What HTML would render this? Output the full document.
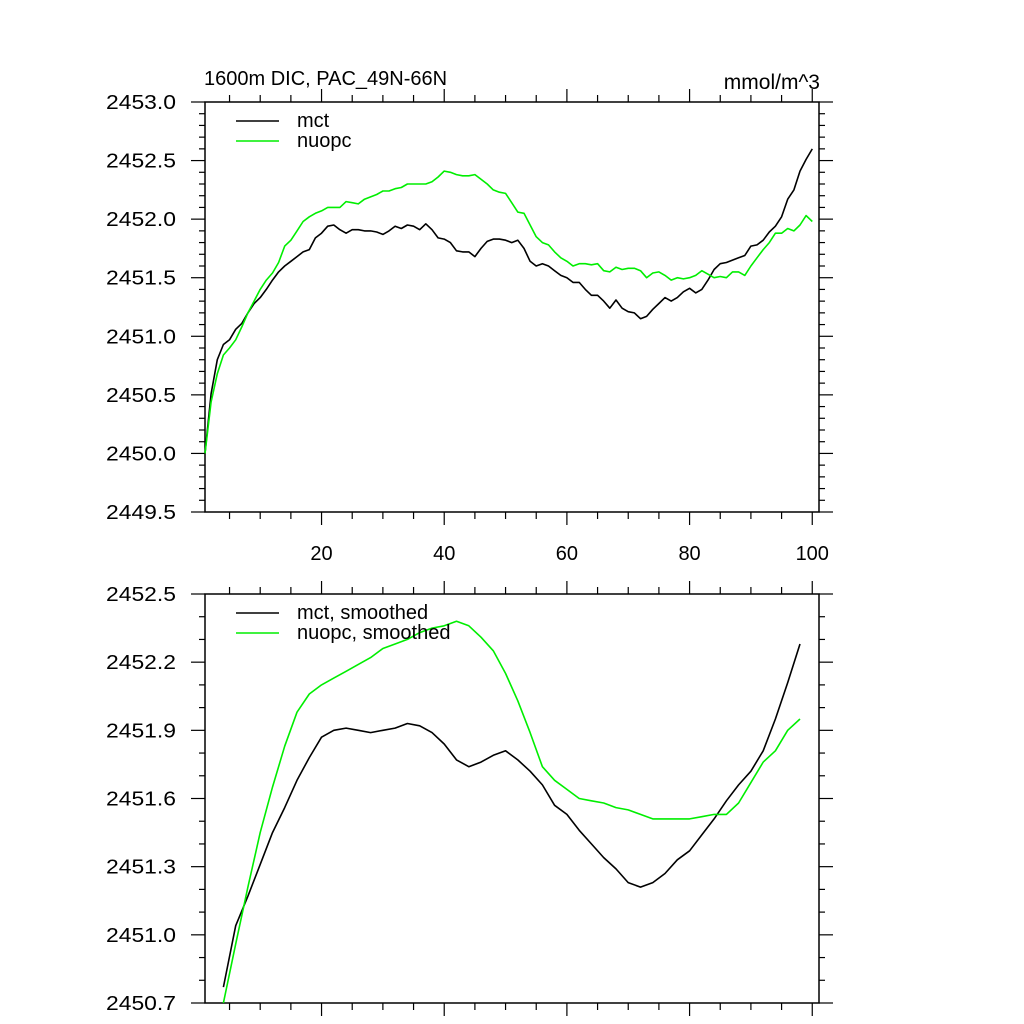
<!DOCTYPE html>
<html><head><meta charset="utf-8"><style>
html,body{margin:0;padding:0;background:#fff;}
svg{display:block;font-family:"Liberation Sans",sans-serif;}
</style></head><body>
<svg id="chart" width="1024" height="1024" viewBox="0 0 1024 1024" xmlns="http://www.w3.org/2000/svg">
<rect width="1024" height="1024" fill="#fff"/>
<text x="204" y="85" font-size="20">1600m DIC, PAC_49N-66N</text>
<text x="820" y="89" font-size="21" text-anchor="end">mmol/m^3</text>
<g id="top"></g>
<g id="bot"></g>
</svg>
<script>
const mct = [2450.00,2450.51,2450.80,2450.93,2450.97,2451.06,2451.11,2451.20,2451.28,2451.33,2451.40,2451.48,2451.55,2451.60,2451.64,2451.68,2451.72,2451.74,2451.84,2451.88,2451.94,2451.95,2451.91,2451.88,2451.91,2451.91,2451.90,2451.90,2451.89,2451.87,2451.90,2451.94,2451.92,2451.95,2451.94,2451.91,2451.96,2451.91,2451.84,2451.83,2451.80,2451.73,2451.72,2451.72,2451.68,2451.75,2451.81,2451.83,2451.83,2451.82,2451.80,2451.82,2451.75,2451.64,2451.60,2451.62,2451.60,2451.56,2451.52,2451.50,2451.46,2451.46,2451.40,2451.35,2451.35,2451.30,2451.24,2451.31,2451.24,2451.21,2451.20,2451.15,2451.17,2451.23,2451.28,2451.33,2451.30,2451.33,2451.38,2451.41,2451.37,2451.40,2451.48,2451.57,2451.62,2451.63,2451.65,2451.67,2451.69,2451.77,2451.78,2451.82,2451.89,2451.94,2452.02,2452.17,2452.25,2452.41,2452.51,2452.60];
const nuopc = [2450.00,2450.44,2450.68,2450.84,2450.90,2450.97,2451.08,2451.20,2451.30,2451.40,2451.48,2451.54,2451.63,2451.77,2451.82,2451.90,2451.98,2452.02,2452.05,2452.07,2452.10,2452.10,2452.10,2452.15,2452.14,2452.13,2452.17,2452.19,2452.21,2452.24,2452.24,2452.26,2452.27,2452.30,2452.30,2452.30,2452.30,2452.32,2452.36,2452.41,2452.40,2452.38,2452.37,2452.37,2452.38,2452.34,2452.30,2452.25,2452.23,2452.22,2452.14,2452.06,2452.05,2451.95,2451.85,2451.80,2451.78,2451.72,2451.67,2451.64,2451.60,2451.62,2451.62,2451.61,2451.62,2451.56,2451.55,2451.59,2451.57,2451.58,2451.58,2451.56,2451.50,2451.54,2451.55,2451.52,2451.48,2451.50,2451.49,2451.50,2451.52,2451.56,2451.53,2451.50,2451.51,2451.50,2451.55,2451.55,2451.52,2451.60,2451.67,2451.74,2451.80,2451.88,2451.88,2451.92,2451.90,2451.95,2452.03,2451.98];
const smoothX = [4,6,8,10,12,14,16,18,20,22,24,26,28,30,32,34,36,38,40,42,44,46,48,50,52,54,56,58,60,62,64,66,68,70,72,74,76,78,80,82,84,86,88,90,92,94,96,98];
const mctSmooth = [2450.77,2451.04,2451.17,2451.31,2451.45,2451.56,2451.68,2451.78,2451.87,2451.90,2451.91,2451.90,2451.89,2451.90,2451.91,2451.93,2451.92,2451.89,2451.84,2451.77,2451.74,2451.76,2451.79,2451.81,2451.77,2451.72,2451.66,2451.57,2451.53,2451.46,2451.40,2451.34,2451.29,2451.23,2451.21,2451.23,2451.27,2451.33,2451.37,2451.44,2451.51,2451.59,2451.66,2451.72,2451.81,2451.95,2452.11,2452.28];
const nuopcSmooth = [2450.70,2450.96,2451.21,2451.45,2451.65,2451.83,2451.98,2452.06,2452.10,2452.13,2452.16,2452.19,2452.22,2452.26,2452.28,2452.30,2452.33,2452.35,2452.36,2452.38,2452.36,2452.31,2452.25,2452.15,2452.03,2451.89,2451.74,2451.68,2451.64,2451.60,2451.59,2451.58,2451.56,2451.55,2451.53,2451.51,2451.51,2451.51,2451.51,2451.52,2451.53,2451.53,2451.58,2451.67,2451.76,2451.81,2451.90,2451.95];
const xTickLabels = ["20","40","60","80","100"];
const topYTickLabels = ["2449.5","2450.0","2450.5","2451.0","2451.5","2452.0","2452.5","2453.0"];
const botYTickLabels = ["2450.7","2451.0","2451.3","2451.6","2451.9","2452.2","2452.5"];

const NS="http://www.w3.org/2000/svg";
function mk(p,tag,attrs){const e=document.createElementNS(NS,tag);for(const k in attrs)e.setAttribute(k,attrs[k]);p.appendChild(e);return e;}
const L=205,R=819,X0=1,X1=101.1;
const sx=v=>L+(v-X0)/(X1-X0)*(R-L);

function panel(g,T,B,y0,y1,yLabels,minorStep,showXLabels,series,legend,legY){
  const sy=v=>B-(v-y0)/(y1-y0)*(B-T);
  const frame=mk(g,'rect',{x:L,y:T,width:R-L,height:B-T,fill:'none',stroke:'#000','stroke-width':1.5});
  
  
  for(let v=5;v<=100;v+=5){
    const major=v%20===0, len=major?13:7, x=sx(v);
    const t1=mk(g,'line',{x1:x,x2:x,y1:B,y2:B+len,stroke:'#000','stroke-width':1.2});
    
    
    const t2=mk(g,'line',{x1:x,x2:x,y1:T,y2:T-len,stroke:'#000','stroke-width':1.2});
    
    
  }
  if(showXLabels){
    xTickLabels.forEach(s=>{
      const t=mk(g,'text',{x:sx(+s),y:B+48,'font-size':20,'text-anchor':'middle'});
      t.textContent=s;
      
      
    });
  }
  const n=Math.round((y1-y0)/minorStep);
  const majorStep=+yLabels[1]-+yLabels[0];
  const per=Math.round(majorStep/minorStep);
  for(let i=0;i<=n;i++){
    const v=y0+i*minorStep, y=sy(v), major=i%per===0, len=major?14:6;
    const a=mk(g,'line',{x1:L,x2:L-len,y1:y,y2:y,stroke:'#000','stroke-width':1.2});
    
    
    const b=mk(g,'line',{x1:R,x2:R+len,y1:y,y2:y,stroke:'#000','stroke-width':1.2});
    
    
  }
  yLabels.forEach(s=>{
    const t=mk(g,'text',{x:176,y:sy(+s)+7,'font-size':20,'text-anchor':'end',textLength:70,lengthAdjust:'spacingAndGlyphs'});
    t.textContent=s;
    
    
  });
  series.forEach((s,si)=>{
    const d=s.y.map((v,i)=>(i?'L':'M')+sx(s.x[i]).toFixed(1)+','+sy(v).toFixed(1)).join('');
    const p=mk(g,'path',{d:d,fill:'none',stroke:s.c,'stroke-width':1.6,'stroke-linejoin':'round'});
    
    
    const ly=legY+si*20;
    const ll=mk(g,'line',{x1:236,x2:279,y1:ly,y2:ly,stroke:s.c,'stroke-width':1.6});
    
    
    const lt=mk(g,'text',{x:297,y:ly+6,'font-size':20});
    lt.textContent=s.label;
    
    
  });
}
const idx=mct.map((_,i)=>i+1);
panel(document.getElementById('top'),102,512,2449.5,2453.0,topYTickLabels,0.1,true,
  [{x:idx,y:mct,c:'#000',name:'mct-line',label:'mct'},{x:nuopc.map((_,i)=>i+1),y:nuopc,c:'#00ee00',name:'nuopc-line',label:'nuopc'}],null,121);
panel(document.getElementById('bot'),594,1003,2450.7,2452.5,botYTickLabels,0.1,false,
  [{x:smoothX,y:mctSmooth,c:'#000',name:'mct-smoothed-line',label:'mct, smoothed'},{x:smoothX,y:nuopcSmooth,c:'#00ee00',name:'nuopc-smoothed-line',label:'nuopc, smoothed'}],null,613);
</script>
</body></html>
